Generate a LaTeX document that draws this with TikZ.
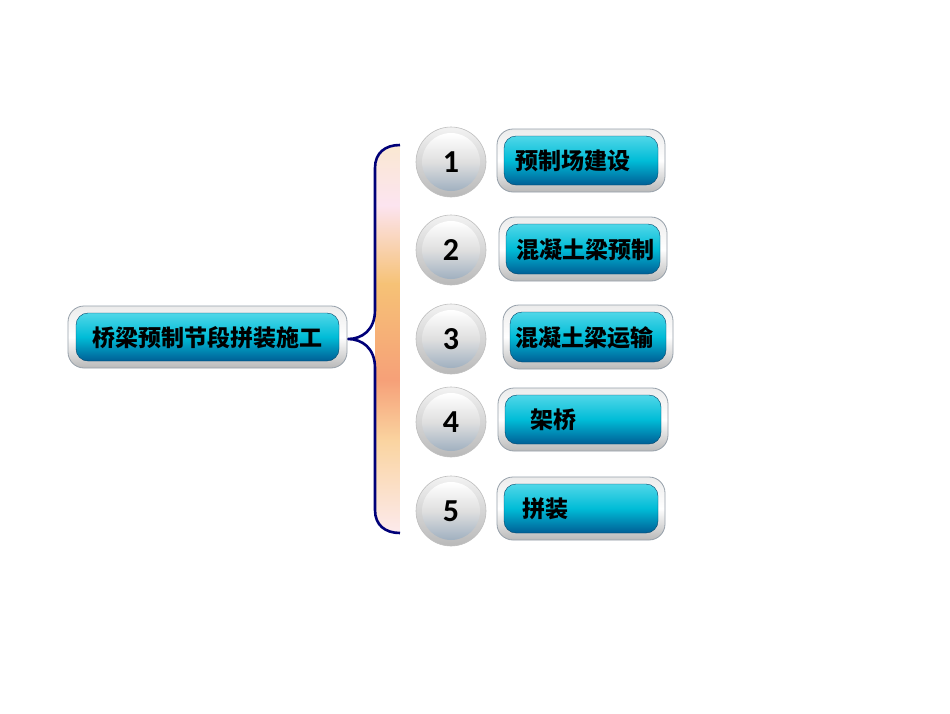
\documentclass[tikz,border=0pt]{standalone}
\usepackage{fontspec}
\IfFontExistsTF{Noto Sans CJK SC Black}
  {\newfontfamily\cjk{Noto Sans CJK SC Black}}
  {\newfontfamily\cjk{Noto Sans CJK SC Bold}[FakeBold=2]}
\newfontfamily\digitfont{Carlito}
\definecolor{navybrace}{RGB}{0,0,120}
\definecolor{cyantop}{RGB}{80,215,232}
\definecolor{cyanmid}{RGB}{0,188,215}
\definecolor{cyanbot}{RGB}{0,95,150}
\definecolor{silverdark}{RGB}{150,160,170}
\definecolor{ballbot}{RGB}{160,176,192}
\definecolor{stripA}{RGB}{250,232,210}
\definecolor{stripB}{RGB}{252,228,240}
\definecolor{stripC}{RGB}{246,194,118}
\definecolor{stripD}{RGB}{246,160,120}
\definecolor{stripE}{RGB}{250,212,160}
\definecolor{stripF}{RGB}{252,234,236}

\begin{document}
\begin{tikzpicture}[x=1pt,y=-1pt,
    frame/.style={rounded corners=16pt,draw=silverdark,line width=.8pt,
      top color=gray!15,bottom color=gray!55,middle color=white},
    bar/.style={rounded corners=12pt,draw=cyanbot!70!black,line width=.4pt,
      top color=cyantop,bottom color=cyanbot,middle color=cyanmid},
    label/.style={font=\cjk\fontsize{23}{26}\selectfont,text=black,anchor=west,inner sep=0pt},
    ballrim/.style={draw=gray!50,line width=.6pt,top color=gray!10,bottom color=gray!55},
    ballcore/.style={top color=white,bottom color=ballbot,middle color=gray!25},
    num/.style={font=\digitfont\bfseries\fontsize{32}{34}\selectfont,text=black,inner sep=0pt}]
  \useasboundingbox[fill=white] (0,0) rectangle (950,713);

  % gradient strip behind the brace, clipped to its rounded ends
  \begin{scope}
    \clip (400,145) .. controls (385,145) and (375,153) .. (375,168)
      -- (375,510) .. controls (375,525) and (385,533) .. (400,533) -- cycle;
    \shade[top color=stripA,bottom color=stripB] (375,145) rectangle (400,206);
    \shade[top color=stripB,bottom color=stripC] (375,205) rectangle (400,284);
    \shade[top color=stripC,bottom color=stripD] (375,283) rectangle (400,381);
    \shade[top color=stripD,bottom color=stripE] (375,380) rectangle (400,441);
    \shade[top color=stripE,bottom color=stripF] (375,440) rectangle (400,533);
  \end{scope}

  % brace
  \coordinate (bracetop) at (400,145);
  \coordinate (bracetip) at (348,339);
  \coordinate (bracebot) at (400,533);
  \draw[navybrace,line width=2.6pt,line join=round]
    (bracetop) .. controls (385,145) and (375,153) .. (375,168)
    -- (375,310) .. controls (375,330) and (362,339) .. (bracetip)
    .. controls (362,339) and (375,348) .. (375,368)
    -- (375,510) .. controls (375,525) and (385,533) .. (bracebot);

  % main box
  \path[frame] (68,306) rectangle (347,368);
  \path[bar] (76,313) rectangle (339,361);
  \node[label,anchor=center] (main) at (207,338) {桥梁预制节段拼装施工};

  % numbered balls
  \foreach \n/\y in {1/162,2/250,3/339,4/422,5/511}{
    \path[ballrim] (451,\y) circle (35);
    \path[ballcore] (451,\y) circle (29);
    \node[num] (ball\n) at (451,\y) {\n};
  }

  % step bars
  \path[frame] (497,129) rectangle (665,192);
  \path[bar] (504,136) rectangle (658,185);
  \node[label] (step1) at (515,161) {预制场建设};

  \path[frame] (499,217) rectangle (667,281);
  \path[bar] (506,224) rectangle (660,274);
  \node[label] (step2) at (516,250) {混凝土梁预制};

  \path[frame] (503,305) rectangle (673,369);
  \path[bar] (510,312) rectangle (666,362);
  \node[label] (step3) at (515,338) {混凝土梁运输};

  \path[frame] (498,388) rectangle (668,451);
  \path[bar] (505,395) rectangle (661,444);
  \node[label] (step4) at (530,420) {架桥};

  \path[frame] (497,477) rectangle (665,540);
  \path[bar] (504,484) rectangle (658,533);
  \node[label] (step5) at (522,509) {拼装};
\end{tikzpicture}
\end{document}
